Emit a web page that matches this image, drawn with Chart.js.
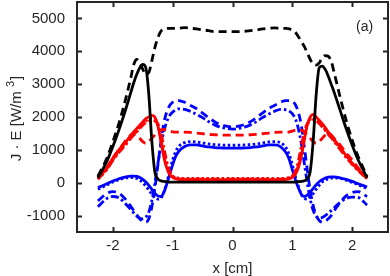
<!DOCTYPE html>
<html>
<head>
<meta charset="utf-8">
<script src="https://cdn.jsdelivr.net/npm/chart.js@4.4.0/dist/chart.umd.min.js"></script>
<style>
  body { margin: 0; background: #fff; }
  canvas { display: block; }
</style>
</head>
<body>
<canvas id="grafico" width="390" height="276"></canvas>
<script>
// posições x [cm] (malha comum a todas as curvas)
const xPos = [-2.25, -2.1, -2.0, -1.9, -1.8, -1.7, -1.65, -1.6, -1.55, -1.5, -1.45, -1.4, -1.35, -1.3, -1.25, -1.2, -1.15, -1.1, -1.05, -1.0, -0.95, -0.9, -0.8, -0.7, -0.6, -0.5, -0.4, -0.3, -0.2, -0.1,
  0,
  0.1, 0.2, 0.3, 0.4, 0.5, 0.6, 0.7, 0.8, 0.9, 0.95, 1.0, 1.05, 1.1, 1.15, 1.2, 1.25, 1.3, 1.35, 1.4, 1.45, 1.5, 1.55, 1.6, 1.65, 1.7, 1.8, 1.9, 2.0, 2.1, 2.25];

// J·E [W/m3] por curva
const pretoSolido = [150, 650, 1100, 1600, 2150, 2750, 3050, 3300, 3500, 3600, 3500, 2700, 1300, 350, 120, 60, 40, 30, 20, 20, 20, 20, 20, 20, 20, 20, 20, 20, 20, 20,
  20,
  20, 20, 20, 20, 20, 20, 20, 20, 20, 20, 20, 20, 30, 40, 60, 120, 350, 1300, 2700, 3500, 3550, 3450, 3250, 3000, 2750, 2200, 1650, 1150, 700, 150];
const pretoTracejado = [200, 750, 1250, 1800, 2450, 3200, 3600, 3750, 3650, 3450, 3300, 3350, 3700, 4100, 4400, 4600, 4680, 4700, 4700, 4700, 4700, 4700, 4720, 4700, 4680, 4650, 4630, 4600, 4600, 4600,
  4600,
  4600, 4610, 4630, 4650, 4680, 4700, 4710, 4700, 4700, 4680, 4650, 4580, 4450, 4300, 4150, 3950, 3750, 3600, 3580, 3650, 3800, 3870, 3850, 3700, 3350, 2600, 1900, 1300, 800, 200];

const vermelhoSolido = [150, 450, 750, 1000, 1200, 1450, 1550, 1650, 1750, 1850, 1950, 2000, 2050, 2000, 1750, 1300, 800, 450, 250, 160, 120, 100, 90, 90, 90, 90, 90, 90, 90, 90,
  90,
  90, 90, 90, 90, 90, 90, 90, 90, 100, 120, 160, 250, 450, 800, 1300, 1750, 2000, 2080, 2000, 1900, 1800, 1680, 1550, 1450, 1320, 1080, 820, 600, 400, 150];
const vermelhoTracejado = [150, 450, 750, 1000, 1250, 1450, 1500, 1450, 1350, 1250, 1200, 1250, 1350, 1450, 1550, 1600, 1620, 1600, 1570, 1550, 1540, 1540, 1540, 1530, 1510, 1490, 1470, 1460, 1450, 1450,
  1450,
  1450, 1450, 1460, 1470, 1490, 1510, 1530, 1540, 1540, 1550, 1570, 1600, 1620, 1600, 1550, 1450, 1350, 1250, 1200, 1250, 1350, 1450, 1500, 1450, 1350, 1150, 900, 700, 450, 150];
const vermelhoPontilhado = [100, 420, 700, 950, 1150, 1380, 1480, 1580, 1680, 1780, 1870, 1930, 1960, 1930, 1750, 1350, 900, 520, 300, 200, 160, 140, 130, 130, 130, 130, 130, 130, 130, 130,
  130,
  130, 130, 130, 130, 130, 130, 130, 130, 140, 160, 200, 300, 520, 900, 1350, 1750, 1930, 1980, 1930, 1830, 1730, 1620, 1500, 1400, 1280, 1040, 790, 570, 380, 120];
const vermelhoTracoPonto = [120, 400, 680, 920, 1120, 1350, 1450, 1550, 1650, 1750, 1830, 1880, 1900, 1880, 1800, 1550, 1100, 650, 350, 200, 150, 120, 110, 110, 110, 110, 110, 110, 110, 110,
  110,
  110, 110, 110, 110, 110, 110, 110, 110, 120, 150, 200, 350, 650, 1100, 1550, 1800, 1880, 1920, 1880, 1800, 1700, 1590, 1470, 1370, 1250, 1010, 770, 560, 370, 130];

const azulSolido = [-150, -30, 50, 120, 170, 200, 200, 190, 160, 100, 20, -80, -200, -320, -400, -420, -300, -50, 250, 550, 800, 950, 1100, 1150, 1150, 1120, 1090, 1070, 1060, 1050,
  1050,
  1050, 1060, 1070, 1090, 1120, 1150, 1150, 1100, 900, 700, 400, 100, -150, -350, -420, -380, -280, -170, -60, 30, 90, 140, 170, 180, 180, 150, 100, 40, -30, -130];
const azulTracejado = [-550, -330, -270, -320, -480, -720, -850, -980, -1100, -1180, -1200, -1100, -750, -200, 500, 1200, 1800, 2150, 2350, 2450, 2500, 2500, 2450, 2350, 2250, 2120, 1980, 1860, 1770, 1720,
  1700,
  1720, 1770, 1860, 1980, 2120, 2250, 2350, 2450, 2500, 2500, 2480, 2380, 2150, 1750, 1100, 400, -250, -700, -1000, -1150, -1200, -1180, -1100, -1000, -850, -600, -400, -300, -270, -420];
const azulPontilhado = [-200, -70, 20, 90, 140, 160, 150, 130, 80, 0, -100, -220, -350, -450, -500, -470, -300, 0, 350, 700, 950, 1100, 1220, 1250, 1240, 1210, 1180, 1160, 1150, 1140,
  1140,
  1140, 1150, 1160, 1180, 1210, 1240, 1250, 1220, 1050, 850, 550, 200, -100, -350, -480, -500, -430, -330, -200, -80, 20, 80, 120, 140, 150, 130, 80, 10, -60, -180];
const azulTracoPonto = [-730, -480, -420, -460, -620, -820, -920, -1020, -1080, -1100, -1050, -900, -550, -50, 550, 1100, 1550, 1850, 2050, 2150, 2220, 2250, 2230, 2170, 2080, 1980, 1860, 1760, 1690, 1650,
  1630,
  1650, 1690, 1760, 1860, 1980, 2080, 2170, 2230, 2220, 2180, 2100, 1950, 1650, 1200, 600, 0, -500, -850, -1020, -1080, -1060, -1000, -930, -850, -760, -600, -480, -440, -450, -680];

const xTicks = [-2, -1, 0, 1, 2];
const yTicks = [-1000, 0, 1000, 2000, 3000, 4000, 5000];

const FONTE = "'Liberation Sans', Arial, Helvetica, sans-serif";
const COR_EIXO = '#262626';

function serie(valores, cor, tracejado) {
  return {
    data: valores.map((v, i) => ({ x: xPos[i], y: v })),
    borderColor: cor,
    borderWidth: 2.8,
    borderDash: tracejado,
    pointRadius: 0,
    fill: false,
    cubicInterpolationMode: 'monotone'
  };
}

const TRACO = [8, 5], PONTO = [2.5, 2.5], TRACO_PONTO = [8, 3, 2.5, 3];

// moldura com ticks para dentro, rótulo do eixo y e "(a)"
const molduraPlugin = {
  id: 'moldura',
  afterDraw(chart) {
    const { ctx, chartArea: a, scales } = chart;
    ctx.save();
    ctx.strokeStyle = COR_EIXO;
    ctx.lineWidth = 2;
    ctx.strokeRect(a.left, a.top, a.right - a.left, a.bottom - a.top);
    const tl = 5;
    ctx.beginPath();
    xTicks.forEach(v => {
      const px = Math.round(scales.x.getPixelForValue(v)) + 0.5;
      ctx.moveTo(px, a.bottom); ctx.lineTo(px, a.bottom - tl);
      ctx.moveTo(px, a.top); ctx.lineTo(px, a.top + tl);
    });
    yTicks.forEach(v => {
      const py = Math.round(scales.y.getPixelForValue(v)) + 0.5;
      ctx.moveTo(a.left, py); ctx.lineTo(a.left + tl, py);
      ctx.moveTo(a.right, py); ctx.lineTo(a.right - tl, py);
    });
    ctx.stroke();

    // rótulo y: J · E [W/m 3] com o 3 sobrescrito
    ctx.fillStyle = COR_EIXO;
    ctx.translate(17, (a.top + a.bottom) / 2 + 2);
    ctx.rotate(-Math.PI / 2);
    ctx.textBaseline = 'middle';
    const f1 = '15px ' + FONTE, f2 = '11px ' + FONTE;
    const p1 = 'J · E [W/m ', p2 = '3', p3 = ']';
    ctx.font = f1; const w1 = ctx.measureText(p1).width, w3 = ctx.measureText(p3).width;
    ctx.font = f2; const w2 = ctx.measureText(p2).width;
    let x0 = -(w1 + w2 + w3) / 2;
    ctx.font = f1; ctx.fillText(p1, x0, 0);
    ctx.font = f2; ctx.fillText(p2, x0 + w1, -6);
    ctx.font = f1; ctx.fillText(p3, x0 + w1 + w2 + 1, 0);
    ctx.restore();

    ctx.save();
    ctx.fillStyle = COR_EIXO;
    ctx.font = '14px ' + FONTE;
    ctx.textBaseline = 'middle';
    ctx.fillText('(a)', a.right - 32, a.top + 25);
    ctx.restore();
  }
};

new Chart(document.getElementById('grafico'), {
  type: 'line',
  data: {
    datasets: [
      serie(pretoSolido, '#000000', []),
      serie(pretoTracejado, '#000000', TRACO),
      serie(vermelhoSolido, '#ff0000', []),
      serie(vermelhoTracejado, '#ff0000', TRACO),
      serie(vermelhoPontilhado, '#ff0000', PONTO),
      serie(vermelhoTracoPonto, '#ff0000', TRACO_PONTO),
      serie(azulSolido, '#0000ff', []),
      serie(azulTracejado, '#0000ff', TRACO),
      serie(azulPontilhado, '#0000ff', PONTO),
      serie(azulTracoPonto, '#0000ff', TRACO_PONTO)
    ]
  },
  options: {
    responsive: false,
    animation: false,
    layout: { padding: { top: 2, right: 2, left: 0, bottom: 0 } },
    plugins: { legend: { display: false }, tooltip: { enabled: false } },
    scales: {
      x: {
        type: 'linear',
        min: -2.6, max: 2.6,
        afterBuildTicks: s => { s.ticks = xTicks.map(v => ({ value: v })); },
        afterFit: s => { s.height = 44; s.paddingLeft = 0; s.paddingRight = 0; },
        grid: { display: false, drawTicks: false, tickLength: 0 },
        border: { display: false },
        ticks: { color: COR_EIXO, font: { family: FONTE, size: 15 }, padding: 5, maxRotation: 0, callback: v => String(v) },
        title: { display: true, text: 'x [cm]', color: COR_EIXO, font: { family: FONTE, size: 15, lineHeight: 1 }, padding: { top: 0, bottom: 0 } }
      },
      y: {
        min: -1500, max: 5500,
        afterBuildTicks: s => { s.ticks = yTicks.map(v => ({ value: v })); },
        afterFit: s => { s.width = 77; s.paddingTop = 0; s.paddingBottom = 0; },
        grid: { display: false, drawTicks: false, tickLength: 0 },
        border: { display: false },
        ticks: { color: COR_EIXO, font: { family: FONTE, size: 15 }, padding: 12, callback: v => String(v) }
      }
    }
  },
  plugins: [molduraPlugin]
});
</script>
</body>
</html>
